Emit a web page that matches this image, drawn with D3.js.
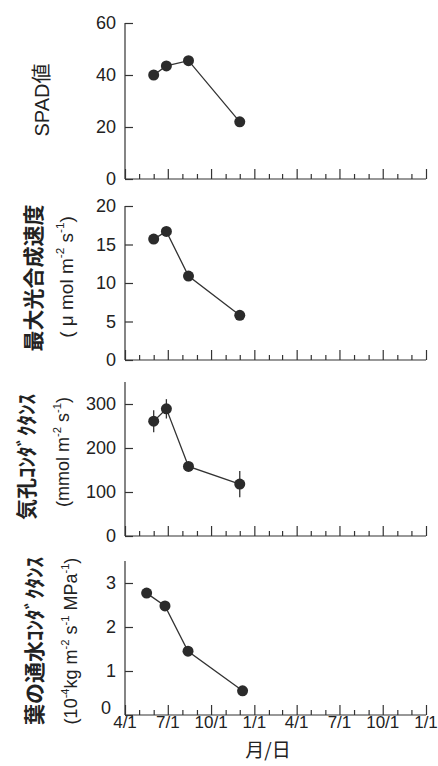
<!DOCTYPE html>
<html>
<head>
<meta charset="utf-8">
<script src="https://cdn.jsdelivr.net/npm/d3@7"></script>
<style>
  body { margin: 0; background: #fff; }
  text { fill: #222; }
</style>
</head>
<body>
<script>
// dates of measurement (first season)
var dates = ["2000-06-01", "2000-06-28", "2000-08-14", "2000-12-01"];
var datesLeaf = ["2000-05-17", "2000-06-25", "2000-08-13", "2000-12-07"];

var spad = [40, 43.5, 45.5, 22];
var photo = [15.7, 16.7, 10.9, 5.8];
var stomata = [261, 289, 158, 118];
var stomataErr = [25, 22, 0, 30];
var hydraulic = [2.77, 2.48, 1.45, 0.55];

var spadTicks = [0, 20, 40, 60];
var photoTicks = [0, 5, 10, 15, 20];
var stomataTicks = [0, 100, 200, 300];
var hydraulicTicks = [0, 1, 2, 3];

var width = 438, height = 766;
var parse = d3.timeParse("%Y-%m-%d");

var svg = d3.select("body").append("svg")
    .attr("width", width)
    .attr("height", height)
    .style("font-family", "Arial, 'Liberation Sans', sans-serif");

var x = d3.scaleTime()
    .domain([parse("2000-04-01"), parse("2002-01-01")])
    .range([125, 426]);

var ink = "#333";

function panel(opt) {
  var y = d3.scaleLinear().domain(opt.domain).range([opt.bottom, opt.top]);

  // y axis, ticks pointing inward
  var ya = svg.append("g")
      .attr("transform", "translate(" + x.range()[0] + ",0)")
      .call(d3.axisRight(y).tickValues(opt.ticks).tickSize(8).tickFormat(""));
  ya.select(".domain").attr("d", "M0," + y.range()[1] + "V" + y.range()[0]);
  ya.selectAll("line, path").attr("stroke", ink).attr("stroke-width", 1.2);

  svg.append("g").selectAll("text")
      .data(opt.ticks)
      .enter().append("text")
      .attr("x", function(d) { return x.range()[0] - (d === 0 && opt.zeroUp ? 14 : 9); })
      .attr("y", function(d) { return y(d) - (d === 0 && opt.zeroUp ? opt.zeroUp : 0); })
      .attr("dy", "0.35em")
      .attr("text-anchor", "end")
      .attr("font-size", 18)
      .text(function(d) { return d; });

  // x axis: monthly minor ticks, quarterly major ticks
  var xg = svg.append("g").attr("transform", "translate(0," + opt.bottom + ")");
  xg.call(d3.axisTop(x).ticks(d3.timeMonth.every(1)).tickSize(5).tickFormat(""));
  xg.selectAll(".tick line")
      .attr("y2", function(d) { return d.getMonth() % 3 === 0 ? -10 : -5; });
  xg.select(".domain").attr("d", "M" + x.range()[0] + ",0H" + x.range()[1]);
  xg.selectAll("line, path").attr("stroke", ink).attr("stroke-width", 1.2);

  var pts = opt.values.map(function(v, i) {
    return { date: parse(opt.dates[i]), value: v, err: opt.err ? opt.err[i] : 0 };
  });

  var line = d3.line()
      .x(function(d) { return x(d.date); })
      .y(function(d) { return y(d.value); });

  svg.append("path")
      .datum(pts)
      .attr("d", line)
      .attr("fill", "none")
      .attr("stroke", ink)
      .attr("stroke-width", 1.3);

  svg.append("g").selectAll("line")
      .data(pts.filter(function(d) { return d.err > 0; }))
      .enter().append("line")
      .attr("x1", function(d) { return x(d.date); })
      .attr("x2", function(d) { return x(d.date); })
      .attr("y1", function(d) { return y(d.value - d.err); })
      .attr("y2", function(d) { return y(d.value + d.err); })
      .attr("stroke", ink)
      .attr("stroke-width", 1.3);

  svg.append("g").selectAll("circle")
      .data(pts)
      .enter().append("circle")
      .attr("cx", function(d) { return x(d.date); })
      .attr("cy", function(d) { return y(d.value); })
      .attr("r", 5.5)
      .attr("fill", "#2b2b2b");

  // rotated axis title lines
  opt.labels.forEach(function(l) {
    var t = svg.append("text")
        .attr("transform", "translate(" + l.x + "," + l.y + ") rotate(-90)")
        .attr("text-anchor", "middle")
        .attr("dominant-baseline", "central")
        .attr("font-size", l.size)
        .attr("font-weight", l.bold ? "bold" : "normal")
        .style("font-family", l.cjk ? "'Noto Sans CJK JP', sans-serif" : "Arial, 'Liberation Sans', 'Noto Sans CJK JP', sans-serif");
    l.parts.forEach(function(p) {
      if (typeof p === "string") {
        t.append("tspan").text(p);
      } else {
        t.append("tspan")
            .attr("baseline-shift", "super")
            .attr("font-size", l.size * 0.62)
            .text(p.sup);
      }
    });
  });

  return y;
}

panel({
  domain: [0, 60], top: 23, bottom: 179, ticks: spadTicks,
  values: spad, dates: dates,
  labels: [{ x: 42, y: 100, size: 20, parts: ["SPAD値"] }]
});

panel({
  domain: [0, 20], top: 206, bottom: 360, ticks: photoTicks,
  values: photo, dates: dates,
  labels: [
    { x: 32, y: 278, size: 21, bold: true, cjk: true, parts: ["最大光合成速度"] },
    { x: 66, y: 277, size: 19, parts: ["( μ mol m", { sup: "-2" }, " s", { sup: "-1" }, ")"] }
  ]
});

panel({
  domain: [0, 350], top: 382, bottom: 536, ticks: stomataTicks,
  values: stomata, dates: dates, err: stomataErr,
  labels: [
    { x: 25, y: 457, size: 21, bold: true, cjk: true, parts: ["気孔ｺﾝﾀﾞｸﾀﾝｽ"] },
    { x: 63, y: 452, size: 18, parts: ["(mmol m", { sup: "-2" }, " s", { sup: "-1" }, ")"] }
  ]
});

panel({
  domain: [0, 3.5], top: 561, bottom: 715, ticks: hydraulicTicks,
  values: hydraulic, dates: datesLeaf, zeroUp: 7,
  labels: [
    { x: 33, y: 641, size: 21, bold: true, cjk: true, parts: ["葉の通水ｺﾝﾀﾞｸﾀﾝｽ"] },
    { x: 71, y: 641, size: 18, parts: ["(10", { sup: "-4" }, "kg m", { sup: "-2" }, " s", { sup: "-1" }, " MPa", { sup: "-1" }, ")"] }
  ]
});

// date labels under the bottom panel
var quarters = d3.timeMonth.every(3).range(x.domain()[0], d3.timeDay.offset(x.domain()[1], 1));
svg.append("g").selectAll("text")
    .data(quarters)
    .enter().append("text")
    .attr("x", function(d) { return x(d); })
    .attr("y", 728)
    .attr("text-anchor", "middle")
    .attr("font-size", 17)
    .text(d3.timeFormat("%-m/%-d"));

svg.append("text")
    .attr("x", 268)
    .attr("y", 757)
    .attr("text-anchor", "middle")
    .attr("font-size", 19)
    .style("font-family", "'Noto Sans CJK JP', sans-serif")
    .text("月/日");
</script>
</body>
</html>
